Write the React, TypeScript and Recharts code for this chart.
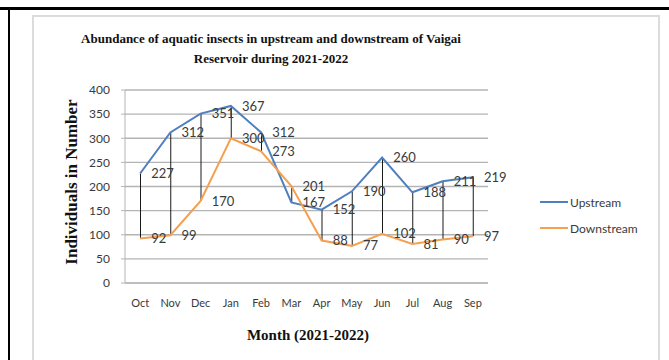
import {
  ComposedChart,
  Line,
  Bar,
  XAxis,
  YAxis,
  CartesianGrid,
  LabelList,
} from 'recharts'

const months = ['Oct', 'Nov', 'Dec', 'Jan', 'Feb', 'Mar', 'Apr', 'May', 'Jun', 'Jul', 'Aug', 'Sep']
const upstream = [227, 312, 351, 367, 312, 167, 152, 190, 260, 188, 211, 219]
const downstream = [92, 99, 170, 300, 273, 201, 88, 77, 102, 81, 90, 97]
const yTicks = [0, 50, 100, 150, 200, 250, 300, 350, 400]

const data = months.map((month, i) => ({
  month,
  upstream: upstream[i],
  downstream: downstream[i],
  span: [downstream[i], upstream[i]],
}))

const UP_COLOR = '#4f7fbf'
const DOWN_COLOR = '#f5a050'
const TEXT = '#3a3a3a'
const SANS = 'Lato, "Open Sans", sans-serif'
const SERIF = '"Liberation Serif", "DejaVu Serif", serif'

// legend kept outside the chart so it doesn't eat plot height
const legendItems = [
  { name: 'Upstream', color: UP_COLOR },
  { name: 'Downstream', color: DOWN_COLOR },
]

export default function App() {
  return (
    <div
      style={{
        position: 'absolute',
        left: 0,
        top: 0,
        width: 669,
        height: 360,
        background: '#fff',
        overflow: 'hidden',
      }}
    >
      {/* page frame */}
      <div style={{ position: 'absolute', left: 0, top: 7, width: 669, height: 3, background: '#000' }} />
      <div style={{ position: 'absolute', left: 8, top: 7, width: 2, height: 353, background: '#000' }} />
      <div
        style={{
          position: 'absolute',
          left: 32,
          top: 15,
          width: 628,
          height: 350,
          border: '2px solid #dcdcdc',
          boxSizing: 'border-box',
        }}
      />

      <div
        style={{
          position: 'absolute',
          left: 60,
          top: 29,
          width: 422,
          textAlign: 'center',
          fontFamily: SERIF,
          fontWeight: 'bold',
          fontSize: 13,
          lineHeight: '20px',
          color: '#111',
        }}
      >
        Abundance of aquatic insects in upstream and downstream of Vaigai
        <br />
        Reservoir during 2021-2022
      </div>

      <div
        style={{
          position: 'absolute',
          left: 72,
          top: 182,
          transform: 'translate(-50%, -50%) rotate(-90deg)',
          whiteSpace: 'nowrap',
          fontFamily: SERIF,
          fontWeight: 'bold',
          fontSize: 17,
          color: '#111',
        }}
      >
        Individuals in Number
      </div>

      <div
        style={{
          position: 'absolute',
          left: 208,
          top: 327,
          width: 200,
          textAlign: 'center',
          fontFamily: SERIF,
          fontWeight: 'bold',
          fontSize: 15,
          color: '#111',
        }}
      >
        Month (2021-2022)
      </div>

      <div
        style={{
          position: 'absolute',
          left: 540,
          top: 189,
          fontFamily: SANS,
          fontSize: 12,
          color: TEXT,
        }}
      >
        {legendItems.map((item) => (
          <div key={item.name} style={{ display: 'flex', alignItems: 'center', height: 26 }}>
            <svg width={28} height={4} style={{ marginRight: 2 }}>
              <line x1={0} y1={2} x2={28} y2={2} stroke={item.color} strokeWidth={2} />
            </svg>
            <span>{item.name}</span>
          </div>
        ))}
      </div>

      <div style={{ position: 'absolute', left: 0, top: 0 }}>
        <ComposedChart
          width={669}
          height={360}
          data={data}
          margin={{ top: 90, right: 181, bottom: 47, left: 85 }}
        >
          <CartesianGrid vertical={false} stroke="#b4b4b4" strokeWidth={1.3} />
          <XAxis
            dataKey="month"
            stroke="#b4b4b4"
            tickLine={false}
            tickMargin={10}
            height={30}
            interval={0}
            tick={{ fill: TEXT, fontSize: 11, fontFamily: SANS }}
          />
          <YAxis
            domain={[0, 400]}
            ticks={yTicks}
            interval={0}
            width={40}
            stroke="#b4b4b4"
            tickSize={4}
            tickMargin={11}
            tick={{ fill: TEXT, fontSize: 12, fontFamily: SANS }}
          />
          <Bar dataKey="span" barSize={1} fill="#1a1a1a" isAnimationActive={false} />
          <Line
            type="linear"
            dataKey="upstream"
            stroke={UP_COLOR}
            strokeWidth={2}
            dot={false}
            isAnimationActive={false}
          >
            <LabelList dataKey="upstream" position="right" offset={11} fill={TEXT} fontSize={13} fontFamily={SANS} />
          </Line>
          <Line
            type="linear"
            dataKey="downstream"
            stroke={DOWN_COLOR}
            strokeWidth={2}
            dot={false}
            isAnimationActive={false}
          >
            <LabelList dataKey="downstream" position="right" offset={11} fill={TEXT} fontSize={13} fontFamily={SANS} />
          </Line>
        </ComposedChart>
      </div>
    </div>
  )
}
